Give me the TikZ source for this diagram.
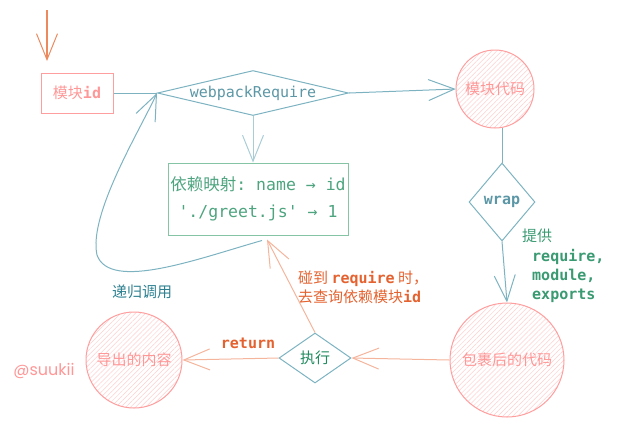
\documentclass[tikz,border=0pt]{standalone}
\usepackage{fontspec}
\setmainfont{Noto Sans CJK SC}
\setmonofont{DejaVu Sans Mono}
\newfontfamily\handfont{Poppins}
\usetikzlibrary{shapes.geometric,arrows.meta,patterns.meta}
\definecolor{pinkline}{HTML}{FF9E9E}
\definecolor{pinktext}{HTML}{FF9797}
\definecolor{tealline}{HTML}{7DB3C1}
\definecolor{teallight}{HTML}{A9CDD6}
\definecolor{tealtext}{HTML}{5B97A6}
\definecolor{greenline}{HTML}{86C4A6}
\definecolor{greentext}{HTML}{4DA47F}
\definecolor{darkgreen}{HTML}{1F8A5E}
\definecolor{provgreen}{HTML}{3A9A72}
\definecolor{orangetext}{HTML}{E4622F}
\definecolor{salmon}{HTML}{F5B49C}
\definecolor{toparrow}{HTML}{EC8A5E}
\definecolor{recurtext}{HTML}{2E8090}
\tikzset{
  barb/.style={-{Straight Barb[length=26pt,width=21pt,line width=1pt]}},
  link/.style={line width=1pt},
  txt/.style={font=\fontsize{15}{19.3}\selectfont, inner sep=0pt},
  hatchcircle/.style={circle, draw=pinkline, line width=1pt,
    pattern={Lines[angle=45,distance=3.5pt,line width=0.5pt]}, pattern color=pinkline!50,
    inner sep=0pt, text=pinktext, font=\fontsize{15}{18}\selectfont},
  decision/.style={diamond, draw=tealline, line width=1pt, inner sep=0pt,
    font=\fontsize{15}{18}\selectfont},
}
\begin{document}
\begin{tikzpicture}[x=1pt,y=-1pt]
\useasboundingbox (0,0) rectangle (617,424);

% nodes
\node[draw=pinkline, line width=1pt, minimum width=72pt, minimum height=40pt,
      text=pinktext, font=\fontsize{15}{18}\selectfont, inner sep=0pt]
      (mid) at (77,93) {模块\texttt{\textbf{id}}};
\node[decision, shape aspect=4.24, minimum width=191pt, minimum height=45pt, text=tealtext]
      (wr) at (253,93) {\texttt{webpackRequire}};
\node[hatchcircle, minimum size=78pt] (code) at (495,89) {模块代码};
\node[decision, shape aspect=0.85, minimum width=66pt, minimum height=78pt, text=tealtext]
      (wrap) at (502,202) {\texttt{\textbf{wrap}}};
\node[hatchcircle, minimum size=114pt] (wrapped) at (507,360) {包裹后的代码};
\node[decision, shape aspect=1.44, minimum width=72pt, minimum height=50pt, text=darkgreen]
      (exec) at (315,358) {执行};
\node[hatchcircle, minimum size=96pt] (out) at (134,360) {导出的内容};
\node[draw=greenline, line width=1pt, minimum width=180pt, minimum height=72pt,
      text=greentext, align=center, font=\fontsize{16.5}{27}\selectfont, inner sep=0pt]
      (map) at (258,199) {依赖映射\texttt{:~name~→~id}\\\texttt{'./greet.js'~→~1}};

% labels
\node[txt, text=orangetext, anchor=center] (lret) at (248,343) {\texttt{\textbf{return}}};
\node[txt, text=orangetext, anchor=west, align=left] (lhit) at (298,287)
      {碰到 \texttt{\textbf{require}} 时，\\去查询依赖模块\texttt{\textbf{id}}};
\node[txt, text=provgreen, anchor=west, align=left] (lprov) at (522,266)
      {提供\\\hspace*{10pt}\texttt{\textbf{require,}}\\\hspace*{10pt}\texttt{\textbf{module,}}\\\hspace*{10pt}\texttt{\textbf{exports}}};
\node[txt, text=recurtext] (lrec) at (142,292) {递归调用};
\node[inner sep=0pt, text=pinktext, font=\handfont\fontsize{16}{18}\selectfont]
      (sign) at (44,371) {@suukii};

% connectors
\coordinate (start) at (47,10);
\coordinate (startend) at (47,61);
\draw[barb, toparrow, line width=1.6pt] (start) -- (startend);
\draw[link, tealline] (mid.east) -- (wr.west);
\draw[link, barb, tealline] (wr.east) -- (code.west);
\draw[link, tealline] (wrap.north |- code.south) -- (wrap.north);
\draw[link, barb, tealline] (wrap.south) -- (wrapped.north);
\draw[link, barb, salmon] (wrapped.west) -- (exec.east);
\draw[link, barb, salmon] (exec.west) -- (out.east);
\draw[link, barb, teallight] (wr.south) -- (map.north -| wr.south);
\draw[link, barb, salmon] (exec.north) -- ([xshift=9pt,yshift=-4pt]map.south);
\draw[link, barb, tealline] ([xshift=4pt,yshift=-5pt]map.south)
   .. controls (200,258) and (110,292) .. (97,255)
   .. controls (88,215) and (140,130) .. (wr.west);
\end{tikzpicture}
\end{document}
